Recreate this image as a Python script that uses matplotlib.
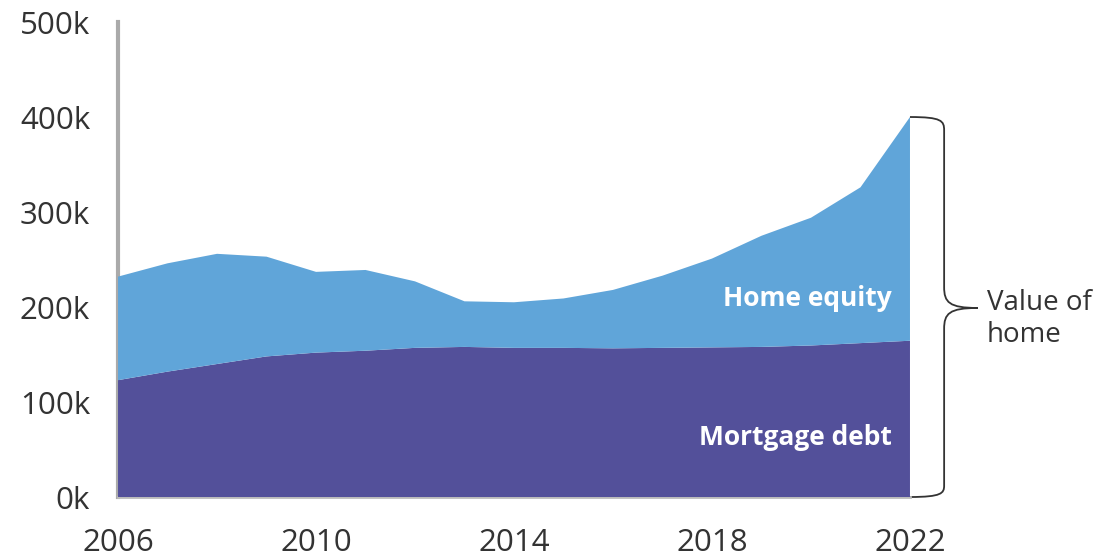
import matplotlib
matplotlib.use("Agg")
import matplotlib.pyplot as plt
from matplotlib.path import Path
from matplotlib.patches import PathPatch

plt.rcParams['font.family'] = ['Open Sans', 'DejaVu Sans']

# values in thousands
years = list(range(2006, 2023))
mortgage_debt = [123, 132, 140, 148, 152, 154, 157, 158, 157, 157, 156.5, 157, 157.5, 158, 159.5, 162, 164.5]
home_value = [232, 246, 256, 253, 237, 239, 227, 206, 205, 209, 218, 233, 251, 275, 294, 326, 400]
home_equity = [v - d for v, d in zip(home_value, mortgage_debt)]

x_ticks = [2006, 2010, 2014, 2018, 2022]
y_ticks = [0, 100, 200, 300, 400, 500]
y_labels = ["0k", "100k", "200k", "300k", "400k", "500k"]

debt_color = "#53509A"
equity_color = "#60A5D9"
text_color = "#333333"

fig = plt.figure(figsize=(11.01, 5.59), dpi=100)
ax = fig.add_axes([0.1072, 0.1109, 0.8265 - 0.1072, 0.9606 - 0.1109])

ax.stackplot(years, mortgage_debt, home_equity, colors=[debt_color, equity_color],
             linewidth=0, zorder=3)

ax.set_xlim(2006, 2022)
ax.set_ylim(0, 500)
ax.set_xticks(x_ticks)
ax.set_yticks(y_ticks)
ax.set_yticklabels(y_labels)
ax.tick_params(length=0, labelsize=22.5, colors=text_color)
ax.tick_params(axis="y", pad=20)
ax.tick_params(axis="x", pad=22)

for s in ["top", "right"]:
    ax.spines[s].set_visible(False)
ax.spines["left"].set_color("#aaaaaa")
ax.spines["left"].set_linewidth(3)
ax.spines["bottom"].set_color("#bbbbbb")
ax.spines["bottom"].set_linewidth(2)

# labels inside the areas
ax.text(2021.64, 201, "Home equity", color="white", fontsize=19, fontweight="bold",
        ha="right", va="baseline", zorder=4)
ax.text(2021.64, 55, "Mortgage debt", color="white", fontsize=19, fontweight="bold",
        ha="right", va="baseline", zorder=4)

# curly brace for value of home
top = home_value[-1]
xa, xb, xt = 2022.0, 2022.69, 2023.37
mid = 199
verts = [
    (xa, top), (xb - 0.05, top), (xb, top - 4), (xb, top - 14),
    (xb, mid + 22),
    (xb, mid + 6), (xb + 0.1, mid), (xt, mid),
    (xb + 0.1, mid), (xb, mid - 6), (xb, mid - 22),
    (xb, 12),
    (xb, 4), (xb - 0.05, 0), (xa, 0),
]
codes = [Path.MOVETO, Path.CURVE4, Path.CURVE4, Path.CURVE4,
         Path.LINETO,
         Path.CURVE4, Path.CURVE4, Path.CURVE4,
         Path.CURVE4, Path.CURVE4, Path.CURVE4,
         Path.LINETO,
         Path.CURVE4, Path.CURVE4, Path.CURVE4]
brace = PathPatch(Path(verts, codes), facecolor="none", edgecolor="#333333",
                  linewidth=1.3, clip_on=False)
ax.add_patch(brace)

ax.text(2023.55, 219, "Value of\nhome", color=text_color, fontsize=20,
        ha="left", va="top", linespacing=1.2)

fig.savefig("out.png", dpi=100)
